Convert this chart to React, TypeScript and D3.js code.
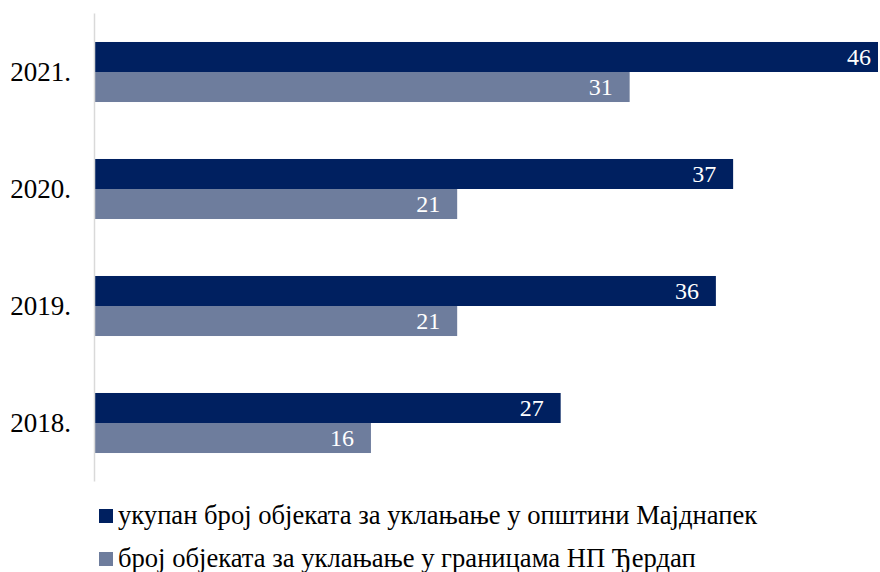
import React from "react";
import * as d3 from "d3";

const categories = ["2021.", "2020.", "2019.", "2018."];
const totalValues = [46, 37, 36, 27];
const parkValues = [31, 21, 21, 16];
const seriesNames = [
  "укупан број објеката за уклањање у општини Мајднапек",
  "број објеката за уклањање у границама НП Ђердап",
];
const colors = ["#002060", "#6E7D9D"];

export default function App() {
  const W = 880, H = 572;
  const x = d3.scaleLinear().domain([0, 45.4]).range([95, 878]);
  const y = d3.scaleBand().domain(categories).range([13.5, 481.5]).paddingInner(0.487).paddingOuter(0.2435);
  const bw = y.bandwidth() / 2;
  const font = "Liberation Serif";
  const series = [totalValues, parkValues];
  return (
    <svg width={W} height={H} style={{ position: "absolute", left: 0, top: 0, background: "#fff" }}>
      <defs>
        <clipPath id="plot">
          <rect x={95} y={0} width={783} height={H} />
        </clipPath>
      </defs>
      <g clipPath="url(#plot)">
        {series.map((vals, si) =>
          vals.map((v, i) => (
            <rect key={`${si}-${i}`} x={x(0)} y={(y(categories[i]) as number) + si * bw} width={x(v) - x(0)} height={bw} fill={colors[si]} />
          ))
        )}
      </g>
      {series.map((vals, si) =>
        vals.map((v, i) => (
          <text key={`l${si}-${i}`} x={Math.min(x(v), 888) - 17} y={(y(categories[i]) as number) + si * bw + bw / 2 + 8} textAnchor="end" fill="#fff" fontFamily={font} fontSize={24}>
            {v}
          </text>
        ))
      )}
      <line x1={94.5} x2={94.5} y1={13.5} y2={481.5} stroke="#d9d9d9" strokeWidth={1.5} />
      {categories.map((c) => (
        <text key={c} x={71} y={(y(c) as number) + y.bandwidth() / 2 + 9} textAnchor="end" fontFamily={font} fontSize={27} fill="#000">
          {c}
        </text>
      ))}
      {seriesNames.map((n, i) => (
        <g key={n} transform={`translate(99, ${509 + i * 43})`}>
          <rect x={0} y={0} width={14} height={14} fill={colors[i]} />
          <text x={19} y={15} fontFamily={font} fontSize={26.6} fill="#000">{n}</text>
        </g>
      ))}
    </svg>
  );
}
